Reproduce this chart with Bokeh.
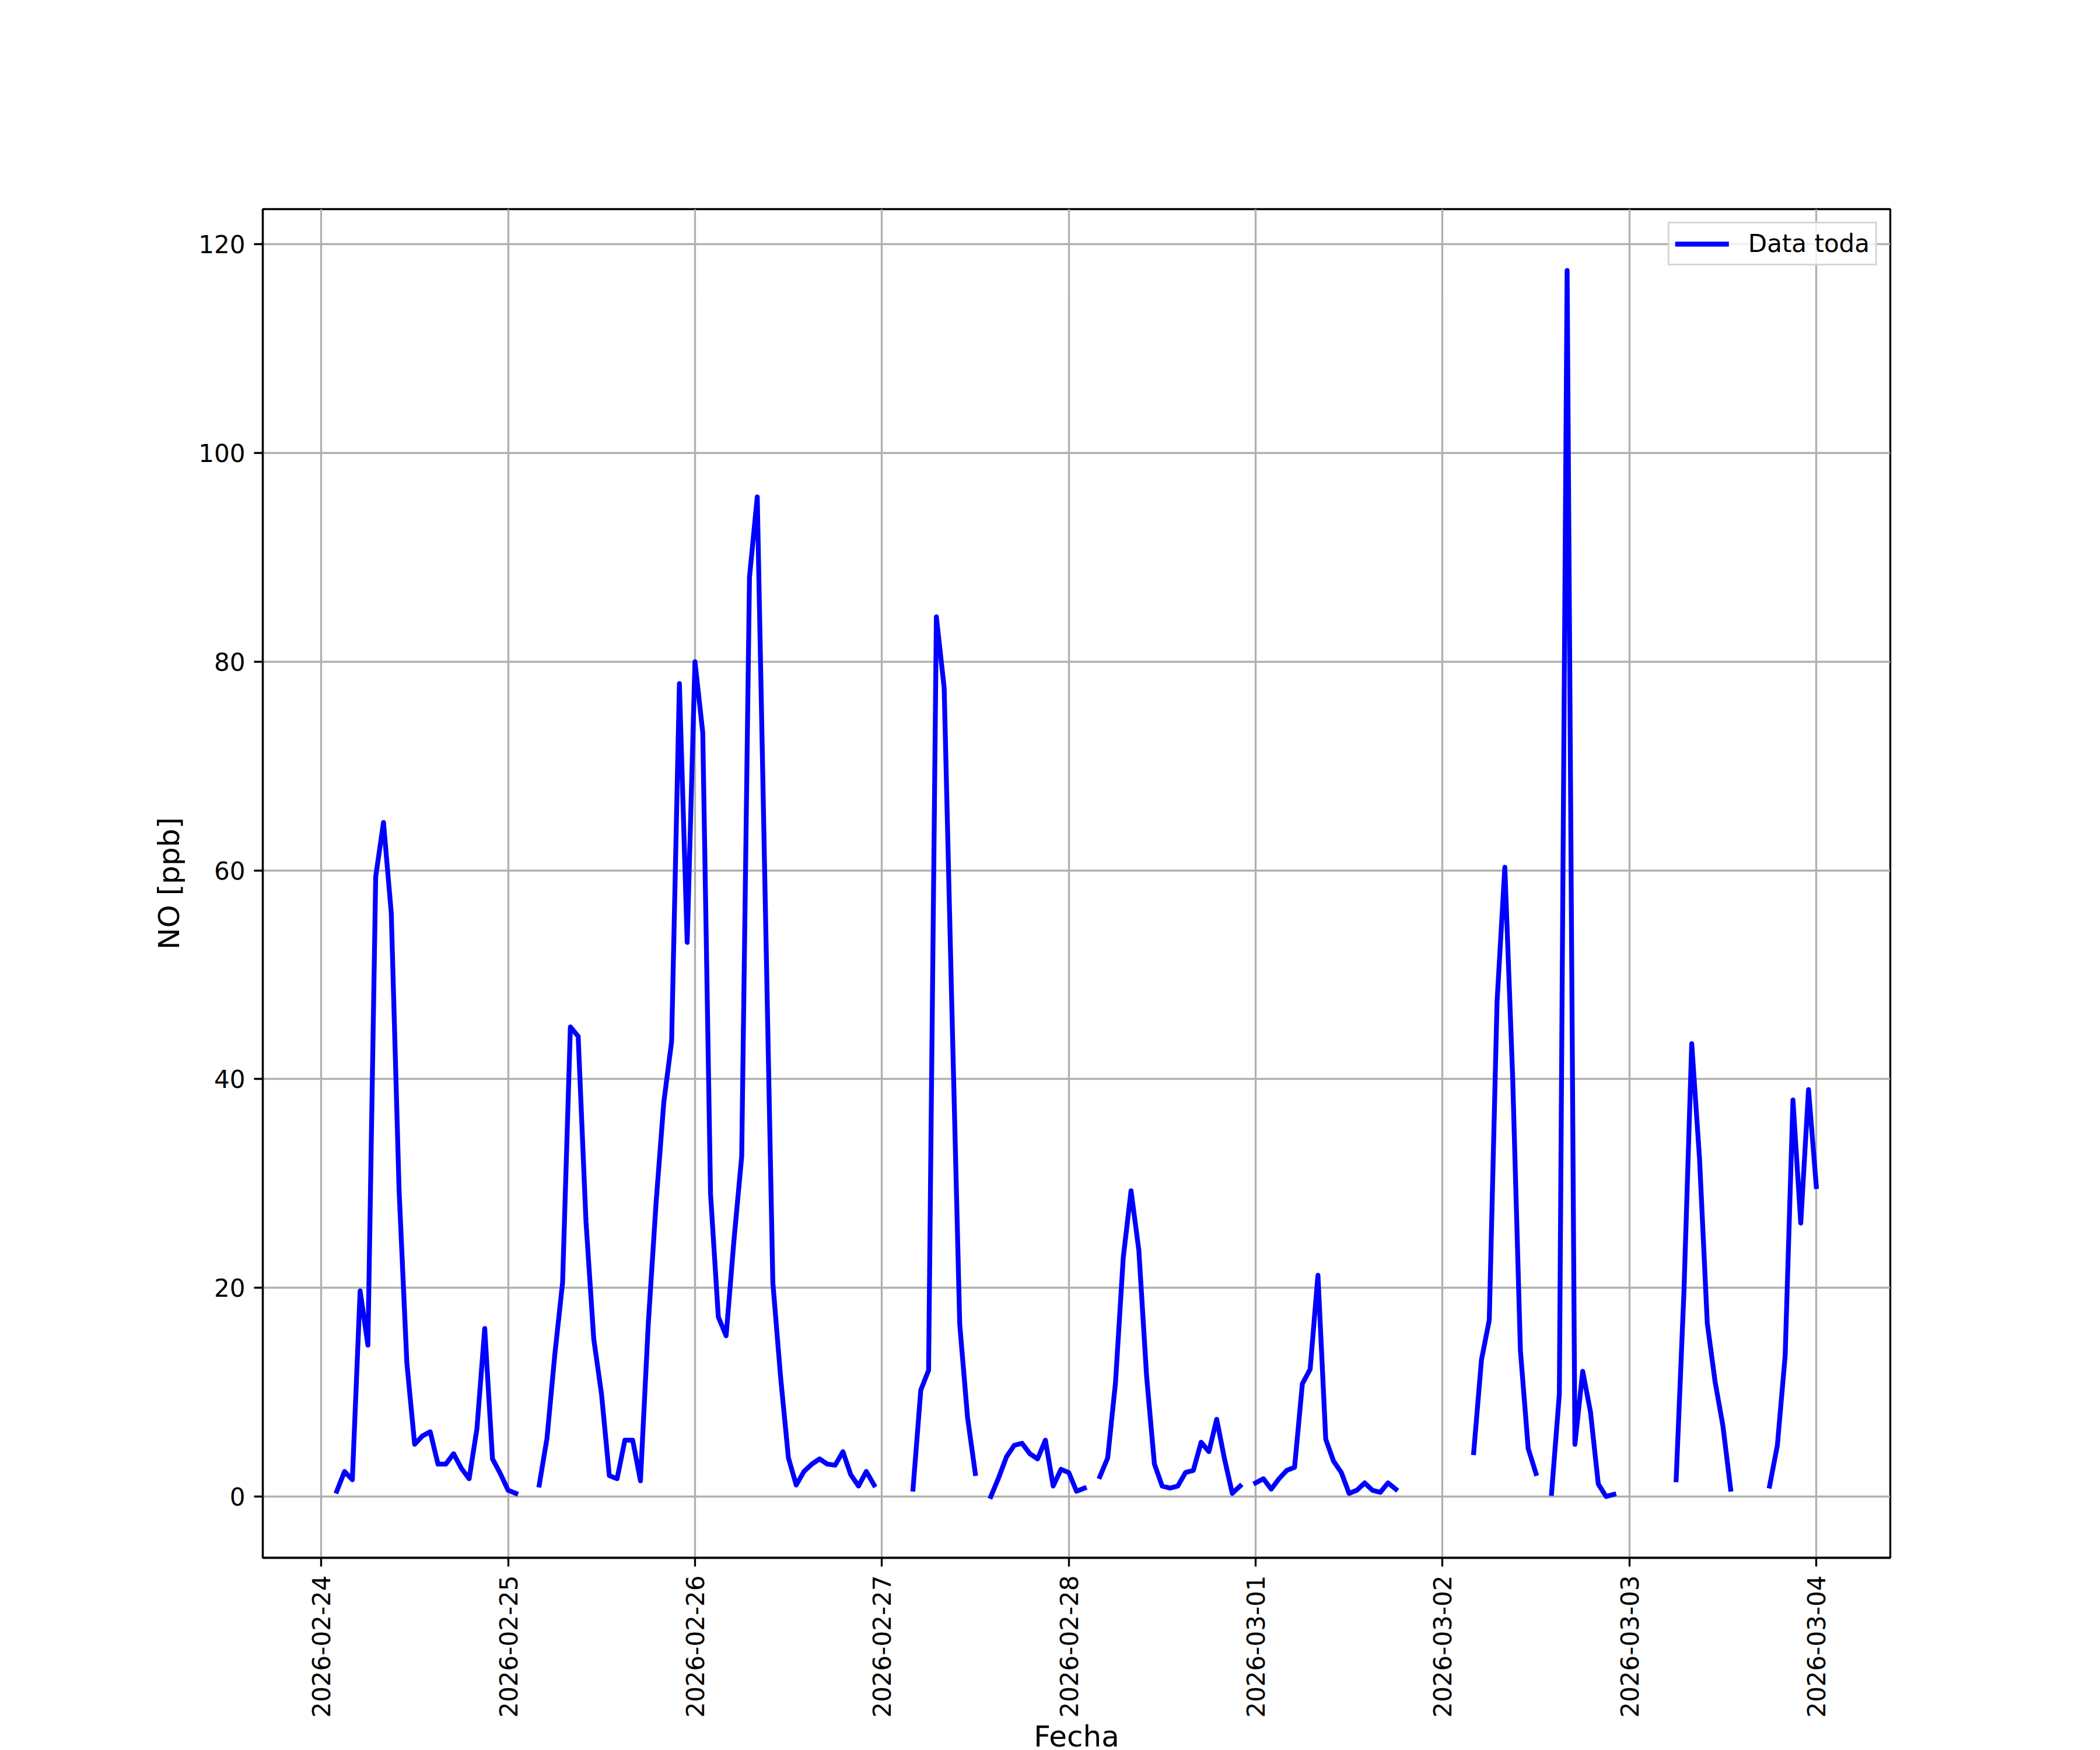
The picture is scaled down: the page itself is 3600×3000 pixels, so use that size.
import math
import numpy as np
import pandas as pd
from bokeh.plotting import figure
from bokeh.models import ColumnDataSource, Range1d, FixedTicker, DatetimeTickFormatter
from bokeh.embed import file_html
from bokeh.resources import INLINE

N = float("nan")

# Hourly NO values [ppb], one list per day (00:00 .. 23:00); NaN = missing
start_time = "2026-02-24 00:00"
day_0224 = [N, N, 0.5, 2.4, 1.6, 19.7, 14.5, 59.4, 64.6, 55.9, 29.4, 12.8,
            5.0, 5.8, 6.2, 3.1, 3.1, 4.1, 2.7, 1.7, 6.5, 16.1, 3.6, 2.2]
day_0225 = [0.6, 0.3, N, N, 1.1, 5.6, 13.6, 20.5, 45.0, 44.1, 26.4, 15.1,
            9.8, 2.0, 1.7, 5.4, 5.4, 1.5, 16.5, 28.1, 37.8, 43.6, 77.9, 53.1]
day_0226 = [80.0, 73.2, 29.0, 17.2, 15.4, 24.5, 32.6, 88.1, 95.8, 58.0, 20.5, 11.4,
            3.7, 1.1, 2.4, 3.1, 3.6, 3.1, 3.0, 4.3, 2.1, 1.0, 2.4, 1.1]
day_0227 = [N, N, N, N, 0.7, 10.2, 12.1, 84.3, 77.5, 46.5, 16.5, 7.6,
            2.2, N, 0.0, 1.8, 3.8, 4.9, 5.1, 4.1, 3.6, 5.4, 1.0, 2.6]
day_0228 = [2.3, 0.5, 0.8, N, 1.9, 3.7, 10.9, 22.9, 29.3, 23.6, 11.5, 3.1,
            1.0, 0.8, 1.0, 2.3, 2.5, 5.2, 4.3, 7.4, 3.6, 0.3, 1.0, N]
day_0301 = [1.3, 1.7, 0.7, 1.7, 2.5, 2.8, 10.8, 12.2, 21.2, 5.5, 3.4, 2.3,
            0.3, 0.6, 1.3, 0.6, 0.4, 1.3, 0.7, N, N, N, N, N]
day_0302 = [N, N, N, N, 4.2, 13.1, 16.9, 47.4, 60.3, 40.3, 14.0, 4.6,
            2.2, N, 0.3, 9.8, 117.5, 5.0, 12.0, 8.1, 1.2, 0.0, 0.2, N]
day_0303 = [N, N, N, N, N, N, 1.6, 19.6, 43.4, 32.4, 16.6, 11.0,
            6.8, 0.7, N, N, N, N, 1.0, 4.9, 13.5, 38.0, 26.2, 39.0]
day_0304 = [29.7]

tick_dates = ["2026-02-24", "2026-02-25", "2026-02-26", "2026-02-27", "2026-02-28",
              "2026-03-01", "2026-03-02", "2026-03-03", "2026-03-04"]
y_ticks = [0, 20, 40, 60, 80, 100, 120]

values = (day_0224 + day_0225 + day_0226 + day_0227 + day_0228 +
          day_0301 + day_0302 + day_0303 + day_0304)
times = pd.date_range(start_time, periods=len(values), freq="h")
source = ColumnDataSource(data=dict(t=times, v=np.array(values, dtype=float)))

# matplotlib-like 5% margins
t0, t1 = times[2], times[-1]
pad = (t1 - t0) * 0.05
vmax = np.nanmax(values)
x_range = Range1d(t0 - pad, t1 + pad)
y_range = Range1d(0 - vmax * 0.05, vmax * 1.05)

FONT = "DejaVu Sans"

p = figure(x_axis_type="datetime", frame_width=2790, frame_height=2312,
           min_border_left=450, min_border_right=360, min_border_top=358,
           min_border_bottom=330, x_range=x_range, y_range=y_range,
           output_backend="svg", toolbar_location=None)
p.background_fill_color = "white"
p.border_fill_color = "white"
p.outline_line_color = "black"
p.outline_line_width = 3.3

p.line(x="t", y="v", source=source, line_color="#0000ff", line_width=8.3,
       line_cap="square", line_join="round", legend_label="Data toda")

tick_ms = [int(pd.Timestamp(d).value // 10**6) for d in tick_dates]
p.xaxis.ticker = FixedTicker(ticks=tick_ms)
p.yaxis.ticker = FixedTicker(ticks=y_ticks)
fmt = "%Y-%m-%d"
p.xaxis.formatter = DatetimeTickFormatter(days=fmt, months=fmt, hours=fmt,
                                          hourmin=fmt, years=fmt)
p.xaxis.major_label_orientation = math.pi / 2

for ax in (p.xaxis, p.yaxis):
    ax.axis_line_color = "black"
    ax.axis_line_width = 3.3
    ax.major_tick_line_color = "black"
    ax.major_tick_line_width = 3.3
    ax.major_tick_out = 15
    ax.major_tick_in = 0
    ax.minor_tick_line_color = None
    ax.major_label_standoff = 15
    ax.major_label_text_font = FONT
    ax.major_label_text_font_size = "42px"
    ax.major_label_text_color = "black"
    ax.axis_label_text_font = FONT
    ax.axis_label_text_font_size = "50px"
    ax.axis_label_text_font_style = "normal"
    ax.axis_label_text_color = "black"

p.xaxis.axis_label = "Fecha"
p.xaxis.axis_label_standoff = 0
p.yaxis.axis_label = "NO [ppb]"
p.yaxis.axis_label_standoff = 18

for g in (p.xgrid, p.ygrid):
    g.grid_line_color = "#b0b0b0"
    g.grid_line_width = 3.3

# legend
lg = p.legend[0]
lg.location = "top_right"
lg.margin = 22
lg.padding = 10
lg.spacing = 0
lg.glyph_width = 92
lg.glyph_height = 40
lg.label_standoff = 33
lg.label_text_font = FONT
lg.label_text_font_size = "42px"
lg.label_text_color = "black"
lg.border_line_color = "#cccccc"
lg.border_line_width = 3.3
lg.border_line_alpha = 0.8
lg.background_fill_color = "white"
lg.background_fill_alpha = 0.8

open("out.html", "w").write(file_html(p, INLINE))
